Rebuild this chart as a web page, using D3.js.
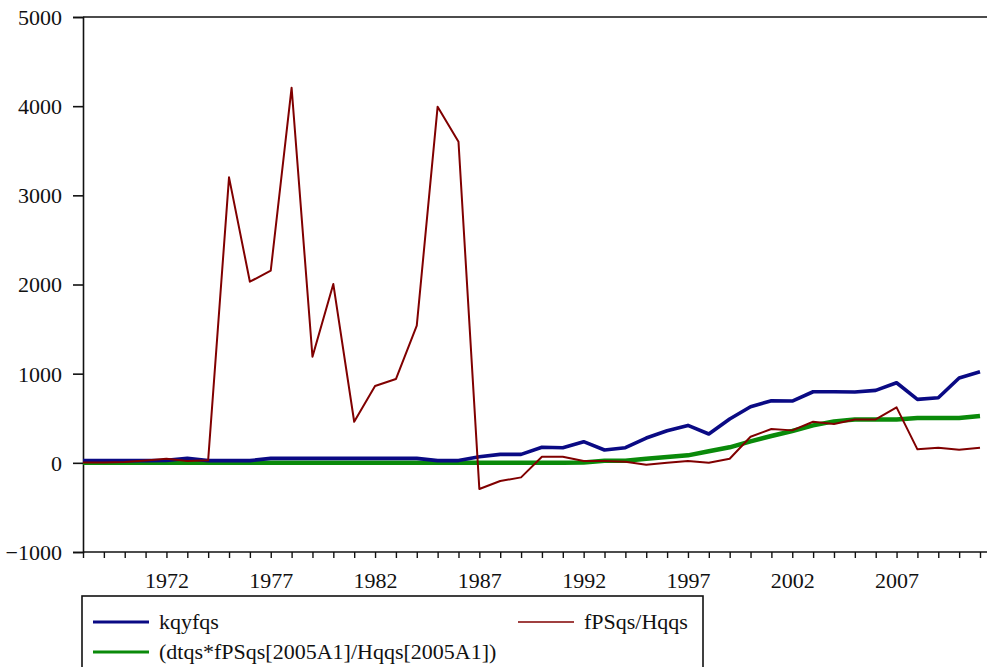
<!DOCTYPE html>
<html><head><meta charset="utf-8">
<script src="https://cdn.jsdelivr.net/npm/d3@7/dist/d3.min.js"></script>
</head><body>
<svg id="s" width="987" height="667"></svg>
<script>
// Annual observations, 1968-2011
const years = d3.range(1968, 2012);

const kqyfqs = [
  25, 25, 25, 25, 28, 50, 25, 25, 25, 50,
  50, 50, 50, 50, 50, 50, 50, 25, 25, 68,
  95, 95, 174, 170, 237, 144, 170, 278, 360, 420,
  323, 491, 629, 696, 693, 797, 797, 794, 813, 898,
  712, 730, 951, 1022
];

const fPSqsHqqs = [
  5, 5, 10, 25, 45, 20, 30, 3202, 2031, 2155,
  4207, 1190, 2005, 461, 861, 940, 1538, 3994, 3601, -294,
  -204, -163, 68, 68, 20, 20, 12, -21, 0, 20,
  0, 46, 293, 379, 364, 461, 435, 487, 487, 622,
  151, 170, 147, 170
];

const dtqsScaled = [
  0, 0, 0, 0, 0, 0, 0, 0, 0, 0,
  0, 0, 0, 0, 0, 0, 0, 0, 0, 0,
  0, 0, 0, 2, 5, 24, 24, 46, 65, 84,
  129, 174, 241, 301, 357, 420, 465, 487, 487, 487,
  502, 502, 502, 525
];

const yTicks = [-1000, 0, 1000, 2000, 3000, 4000, 5000];
const xLabelYears = [1972, 1977, 1982, 1987, 1992, 1997, 2002, 2007];

const seriesNames = ["kqyfqs", "fPSqs/Hqqs", "(dtqs*fPSqs[2005A1]/Hqqs[2005A1])"];
const seriesColors = ["#0a0a84", "#800000", "#0a8a0a"];

d3.select("body").style("margin", "0px").style("background", "#fff");

const svg = d3.select("#s").style("display", "block");
const W = 987;

const x = d3.scaleLinear().domain([1968, 2011]).range([83, 980]);
const y = d3.scaleLinear().domain([-1000, 5000]).range([552, 17]);

// top edge of the frame
svg.append("line").attr("x1", 83).attr("x2", W).attr("y1", y(5000)).attr("y2", y(5000))
  .attr("stroke", "#111").attr("stroke-width", 1.6);

// y axis
const yAxis = d3.axisLeft(y).tickValues(yTicks).tickSize(10).tickPadding(11).tickFormat(d3.format("d"));
const gy = svg.append("g").attr("transform", "translate(83,0)").call(yAxis);
gy.attr("font-family", null).attr("font-size", null);
gy.select(".domain").attr("stroke", "#111").attr("stroke-width", 1.6);
gy.selectAll(".tick line").attr("stroke", "#111").attr("stroke-width", 1.6);
gy.selectAll(".tick text").attr("fill", "#111").attr("dy", "0.34em")
  .style("font-family", "Liberation Serif").style("font-size", "22px");

// x axis: a tick every year, labels every fifth year
const xAxis = d3.axisBottom(x).tickValues(years).tickSize(6).tickPadding(14)
  .tickFormat(d => xLabelYears.includes(d) ? String(d) : "");
const gx = svg.append("g").attr("transform", `translate(0,${y(-1000)})`).call(xAxis);
gx.attr("font-family", null).attr("font-size", null);
gx.select(".domain").remove();
gx.append("line").attr("x1", 83).attr("x2", W).attr("y1", 0).attr("y2", 0)
  .attr("stroke", "#111").attr("stroke-width", 1.6);
gx.selectAll(".tick line").attr("stroke", "#111").attr("stroke-width", 1.4);
gx.selectAll(".tick text").attr("fill", "#111")
  .style("font-family", "Liberation Serif").style("font-size", "22px");

// series
const line = d3.line().x(d => x(d[0])).y(d => y(d[1]));
const draw = (vals, color, width) =>
  svg.append("path")
    .datum(years.map((yr, i) => [yr, vals[i]]))
    .attr("fill", "none").attr("stroke", color).attr("stroke-width", width)
    .attr("stroke-linejoin", "round").attr("d", line);

draw(dtqsScaled, seriesColors[2], 4.5);
draw(kqyfqs, seriesColors[0], 3.6);
draw(fPSqsHqqs, seriesColors[1], 2);

// legend
const lg = svg.append("g");
lg.append("rect").attr("x", 82).attr("y", 596).attr("width", 621).attr("height", 90)
  .attr("fill", "#fff").attr("stroke", "#111").attr("stroke-width", 1.6);

const legendItems = [
  { name: seriesNames[0], color: seriesColors[0], w: 3, lx: 93, ly: 622 },
  { name: seriesNames[1], color: seriesColors[1], w: 1.6, lx: 518, ly: 622 },
  { name: seriesNames[2], color: seriesColors[2], w: 3, lx: 93, ly: 652 }
];
legendItems.forEach(it => {
  lg.append("line").attr("x1", it.lx).attr("x2", it.lx + 56).attr("y1", it.ly).attr("y2", it.ly)
    .attr("stroke", it.color).attr("stroke-width", it.w);
  lg.append("text").attr("x", it.lx + 66).attr("y", it.ly).attr("dy", "0.32em")
    .attr("fill", "#111")
    .style("font-family", "Liberation Serif").style("font-size", "22px")
    .text(it.name);
});
</script></body></html>
